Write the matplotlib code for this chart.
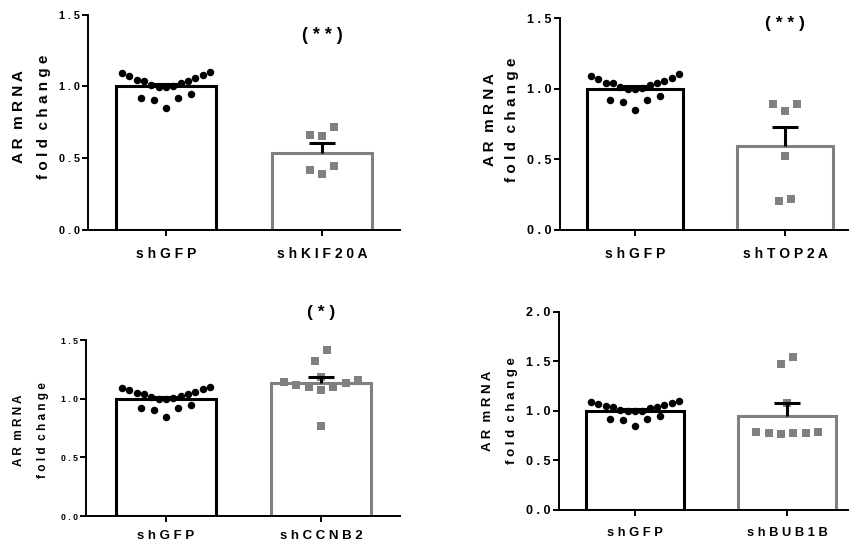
import matplotlib
matplotlib.use("Agg")
import matplotlib.pyplot as plt
import numpy as np

plt.rcParams['font.family'] = ['Liberation Sans', 'DejaVu Sans']
plt.rcParams['font.weight'] = 'bold'

# data
control_label = "shGFP"
control_vals = [1.092, 1.073, 1.010, 1.045, 0.998, 1.040, 1.003, 1.040, 0.998,
                1.057, 1.026, 1.080, 1.103, 0.918, 0.848, 0.948, 0.906, 0.918]
control_mean = 1.0
control_sem = 0.017

treat_labels = ["shKIF20A", "shTOP2A", "shCCNB2", "shBUB1B"]
kif20a_vals = [0.662, 0.655, 0.720, 0.446, 0.388, 0.418]
top2a_vals = [0.893, 0.843, 0.893, 0.524, 0.206, 0.217]
ccnb2_vals = [1.139, 1.117, 1.097, 1.074, 1.102, 1.131, 1.159, 1.415, 1.321, 1.182, 0.767]
bub1b_vals = [0.784, 0.773, 0.766, 0.776, 0.776, 0.790, 1.082, 1.469, 1.546]
treat_vals = [kif20a_vals, top2a_vals, ccnb2_vals, bub1b_vals]
treat_means = [0.535, 0.592, 1.131, 0.950]
treat_sems = [0.073, 0.140, 0.051, 0.132]
signif = ["(**)", "(**)", "(*)", ""]
y_max = [1.5, 1.5, 1.5, 2.0]

GRAY = "#808080"
W, H = 851, 541

# layout, in figure pixels: (left, top, right, bottom)
boxes = [(88, 14.7, 400, 230), (560, 18.3, 848, 230),
         (86, 340, 400, 516), (559, 311.7, 848, 510)]
xlims = [(-0.5, 1.5), (-0.5, 1.42), (-0.516, 1.51), (-0.5, 1.40)]
ytick_fs = [7.8, 9, 6.3, 9]
xtick_fs = [10, 10, 9.5, 9.3]
xtick_pad = [8, 8, 6, 8]
ylab_fs = [11, 11, 8.5, 9.5]
ylab_x = [(19, 44), (490, 512), (19, 43), (488, 512)]
ylab_y = [117, 120, 430, 411]
sig_y = [1.352, 1.465, 1.733, 0]
sig_fs = [13, 12.5, 12.5, 12]


def spaced(s):
    return "  ".join(" ".join(w) for w in s.split(" "))


def row_layout(vals, thresh, step, max_span):
    # GraphPad-like scatter: close values share a row, lowest in the middle
    vals = np.asarray(vals)
    order = np.argsort(vals, kind="stable")
    offsets = np.zeros(len(vals))
    i = 0
    while i < len(order):
        start = vals[order[i]]
        row = [order[i]]
        j = i + 1
        while j < len(order) and vals[order[j]] - start <= thresh:
            row.append(order[j])
            j += 1
        n = len(row)
        s = step if n < 2 else min(step, max_span / (n - 1))
        slots = sorted(np.arange(n) - (n - 1) / 2, key=lambda k: (abs(k), k))
        for idx, k in zip(row, slots):
            offsets[idx] = k * s
        i = j
    return offsets


fig = plt.figure(figsize=(W / 100, H / 100), dpi=100)

for p in range(4):
    l, t, r, b = boxes[p]
    ax = fig.add_axes([l / W, 1 - b / H, (r - l) / W, (b - t) / H])
    ax.set_xlim(*xlims[p])
    ax.set_ylim(0, y_max[p])
    px_per_x = (r - l) / (xlims[p][1] - xlims[p][0])

    ax.bar([0, 1], [control_mean, treat_means[p]], width=0.64, color="white",
           edgecolor=["black", GRAY], linewidth=2.2, zorder=1)

    step = 12.3 / px_per_x
    span = 88 / px_per_x
    cx = row_layout(control_vals, 0.106, step, span)
    tx = row_layout(treat_vals[p], 0.106, step, span)
    ax.plot(0 + cx, control_vals, "o", ms=5.4, color="black", mew=0,
            zorder=3, clip_on=False)
    ax.plot(1 + tx, treat_vals[p], "s", ms=6.3, color=GRAY, mew=0,
            zorder=3, clip_on=False)

    # upper-only SEM bars
    for x, m, e in [(0, control_mean, control_sem), (1, treat_means[p], treat_sems[p])]:
        ax.vlines(x, m, m + e, color="black", lw=2.2, zorder=4)
        ax.plot([x], [m + e], marker="_", ms=18.7, mew=2.2, color="black", zorder=4)

    if signif[p]:
        ax.text(1, sig_y[p], spaced(signif[p]), ha="center", va="center",
                fontsize=sig_fs[p], fontweight="bold", clip_on=False)

    yt = np.arange(0, y_max[p] + 0.01, 0.5)
    ax.set_yticks(yt)
    ax.set_yticklabels([spaced(f"{v:.1f}") for v in yt], fontsize=ytick_fs[p])
    ax.set_xticks([0, 1])
    ax.set_xticklabels([spaced(control_label), spaced(treat_labels[p])],
                       fontsize=xtick_fs[p])
    ax.tick_params(axis="both", length=4, width=1.4)
    ax.tick_params(axis="y", pad=2)
    ax.tick_params(axis="x", pad=xtick_pad[p])
    for side in ("top", "right"):
        ax.spines[side].set_visible(False)
    for side in ("left", "bottom"):
        ax.spines[side].set_linewidth(1.4)

    x1, x2 = ylab_x[p]
    yc = 1 - ylab_y[p] / H
    fig.text(x1 / W, yc, spaced("AR mRNA"), rotation=90, ha="center", va="center",
             fontsize=ylab_fs[p], fontweight="bold")
    fig.text(x2 / W, yc, spaced("fold change"), rotation=90, ha="center", va="center",
             fontsize=ylab_fs[p], fontweight="bold")

fig.savefig("out.png", dpi=100)
